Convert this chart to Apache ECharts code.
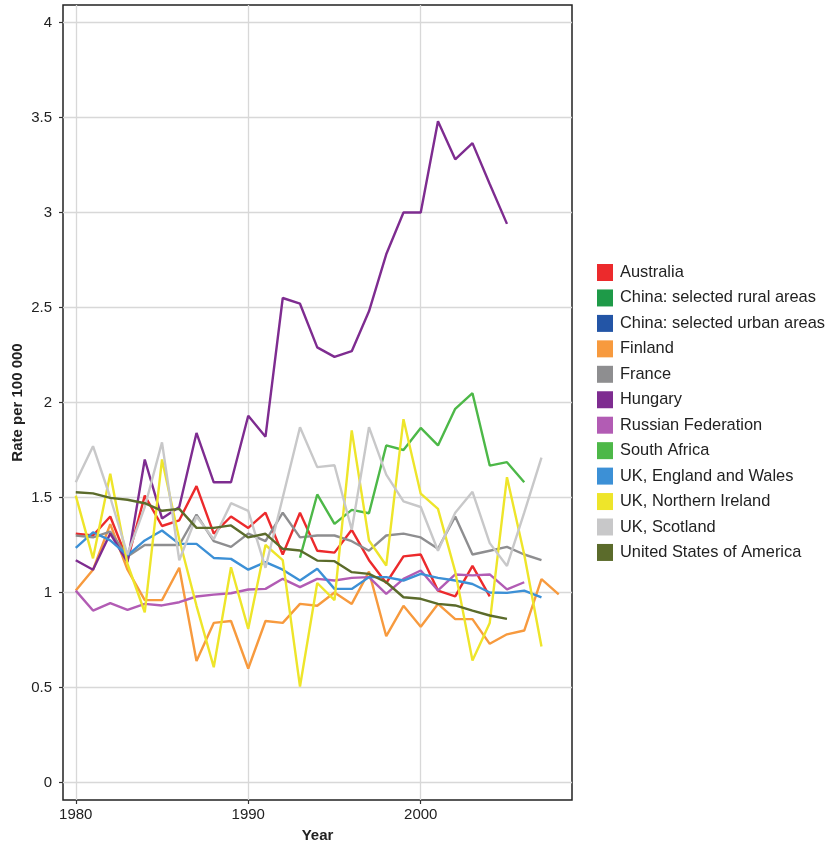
<!DOCTYPE html>
<html><head><meta charset="utf-8">
<script src="https://cdn.jsdelivr.net/npm/echarts@6/dist/echarts.min.js"></script>
<style>html,body{margin:0;padding:0;background:#fff}#c{width:833px;height:847px}</style>
</head><body><div id="c"></div>
<script>
const years = [1980,1981,1982,1983,1984,1985,1986,1987,1988,1989,1990,1991,1992,1993,1994,1995,1996,1997,1998,1999,2000,2001,2002,2003,2004,2005,2006,2007,2008];
const xTicks = [1980,1990,2000];
const yTicks = [0,0.5,1,1.5,2,2.5,3,3.5,4];
// each array starts at the given start year
const australia = [1.31,1.30,1.40,1.17,1.51,1.35,1.38,1.56,1.31,1.40,1.34,1.42,1.20,1.42,1.22,1.21,1.33,1.17,1.05,1.19,1.20,1.01,0.98,1.14,0.98];
const chinaRural = [];
const chinaUrban = [];
const finland = [1.01,1.12,1.36,1.12,0.96,0.96,1.13,0.64,0.84,0.85,0.60,0.85,0.84,0.94,0.93,1.00,0.94,1.11,0.77,0.93,0.82,0.94,0.86,0.86,0.73,0.78,0.80,1.07,0.99];
const france = [1.30,1.29,1.32,1.19,1.25,1.25,1.25,1.41,1.27,1.24,1.31,1.27,1.42,1.29,1.30,1.30,1.27,1.22,1.30,1.31,1.29,1.23,1.40,1.20,1.22,1.24,1.20,1.17];
const hungary = [1.17,1.12,1.31,1.16,1.70,1.39,1.45,1.84,1.58,1.58,1.93,1.82,2.55,2.52,2.29,2.24,2.27,2.48,2.78,3.00,3.00,3.48,3.28,3.365,3.15,2.94];
const russia = [1.01,0.905,0.944,0.909,0.94,0.932,0.949,0.979,0.989,0.996,1.016,1.019,1.072,1.028,1.072,1.063,1.077,1.081,0.993,1.072,1.116,1.011,1.095,1.09,1.095,1.016,1.054];
const southAfrica = [1.183,1.516,1.361,1.435,1.417,1.774,1.75,1.866,1.774,1.967,2.049,1.668,1.686,1.58];
const englandWales = [1.235,1.317,1.274,1.195,1.274,1.326,1.256,1.256,1.182,1.177,1.12,1.16,1.12,1.063,1.125,1.019,1.019,1.081,1.081,1.063,1.098,1.077,1.063,1.045,1.0,0.998,1.01,0.975];
const northernIreland = [1.51,1.18,1.625,1.15,0.896,1.70,1.28,0.93,0.607,1.133,0.809,1.25,1.17,0.505,1.05,0.96,1.853,1.274,1.142,1.912,1.52,1.44,1.11,0.642,0.84,1.607,1.2,0.716];
const scotland = [1.58,1.77,1.50,1.20,1.45,1.79,1.17,1.40,1.28,1.47,1.43,1.13,1.50,1.87,1.66,1.67,1.33,1.87,1.62,1.48,1.45,1.22,1.42,1.53,1.26,1.14,1.42,1.71];
const usa = [1.528,1.522,1.498,1.488,1.47,1.43,1.44,1.34,1.34,1.353,1.29,1.309,1.23,1.221,1.168,1.165,1.107,1.098,1.054,0.975,0.967,0.94,0.932,0.905,0.879,0.861];

const seriesDefs = [
  ['Australia', australia, 1980, '#EC2A2C'],
  ['China: selected rural areas', chinaRural, 1980, '#1E9A48'],
  ['China: selected urban areas', chinaUrban, 1980, '#2355A6'],
  ['Finland', finland, 1980, '#F79A3E'],
  ['France', france, 1980, '#8E8E90'],
  ['Hungary', hungary, 1980, '#7E2C90'],
  ['Russian Federation', russia, 1980, '#B25CB4'],
  ['South Africa', southAfrica, 1993, '#4DB848'],
  ['UK, England and Wales', englandWales, 1980, '#3C90D6'],
  ['UK, Northern Ireland', northernIreland, 1980, '#EEE52A'],
  ['UK, Scotland', scotland, 1980, '#C8C8C9'],
  ['United States of America', usa, 1980, '#5B6B2B']
];

const font = '"Liberation Sans", Arial, Helvetica, sans-serif';
const chart = echarts.init(document.getElementById('c'), null, {renderer:'canvas'});
chart.setOption({
  animation: false,
  backgroundColor: '#fff',
  grid: {left: 63, right: 261, top: 5, bottom: 47, show: true, borderColor: '#222', borderWidth: 1.5, containLabel: false, outerBoundsMode: 'none'},
  legend: {
    orient: 'vertical', left: 592, top: 259, icon: 'rect', itemWidth: 16, itemHeight: 17, itemGap: 8.45,
    textStyle: {fontFamily: font, fontSize: 16.4, color: '#222', padding: [0,0,0,2]},
    data: seriesDefs.map(d => d[0])
  },
  xAxis: {
    type: 'value', min: 1979.26, max: 2008.77,
    name: 'Year', nameLocation: 'middle', nameGap: 28, nameMoveOverlap: false,
    nameTextStyle: {fontFamily: font, fontSize: 15, fontWeight: 'bold', color: '#222'},
    axisLine: {show: false, onZero: false},
    axisTick: {show: true, length: 4, lineStyle: {color: '#333', width: 1.2}, customValues: xTicks},
    axisLabel: {fontFamily: font, fontSize: 15, color: '#222', margin: 7, customValues: xTicks, formatter: v => String(v)},
    splitLine: {show: true, lineStyle: {color: '#D8D8D8', width: 1.3}}
  },
  yAxis: {
    type: 'value', min: -0.092, max: 4.092,
    name: 'Rate per 100 000', nameLocation: 'middle', nameGap: 38, nameMoveOverlap: false,
    nameTextStyle: {fontFamily: font, fontSize: 15, fontWeight: 'bold', color: '#222'},
    axisLine: {show: false, onZero: false},
    axisTick: {show: true, length: 4, lineStyle: {color: '#333', width: 1.2}, customValues: yTicks},
    axisLabel: {fontFamily: font, fontSize: 15, color: '#222', margin: 11, customValues: yTicks, formatter: v => String(v)},
    splitLine: {show: true, lineStyle: {color: '#D8D8D8', width: 1.3}}
  },
  series: seriesDefs.map(([name, vals, start, color]) => ({
    name, type: 'line', showSymbol: false, symbol: 'none',
    itemStyle: {color},
    lineStyle: {color, width: 2.4},
    data: vals.map((v, i) => [start + i, v])
  }))
});
</script></body></html>
